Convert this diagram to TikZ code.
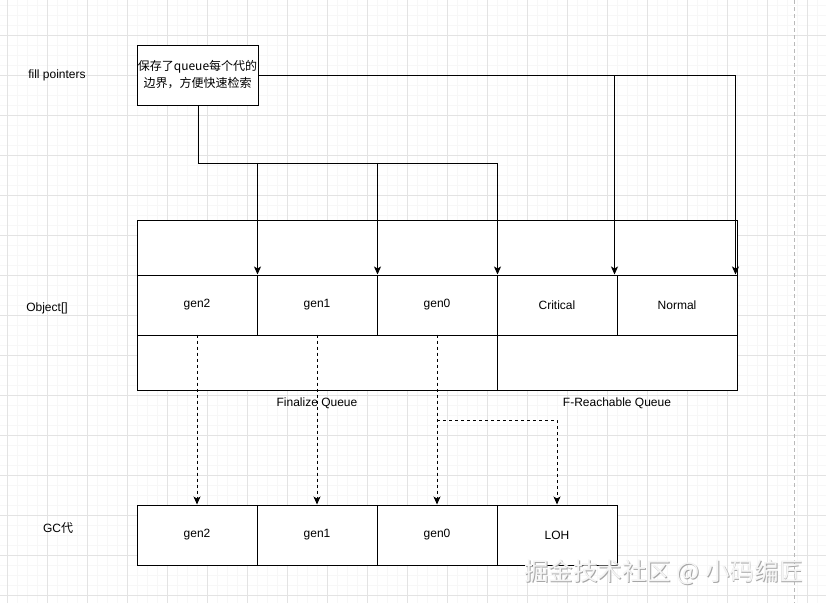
\documentclass[tikz,border=0pt]{standalone}
\usepackage{fontspec}
\setmainfont{Liberation Sans}
\newfontfamily\cjk{Noto Sans CJK SC}
\usetikzlibrary{arrows.meta,positioning}

\begin{document}
\begin{tikzpicture}[x=1pt,y=-1pt,
  every node/.style={font=\fontsize{12}{15}\selectfont},
  cell/.style={draw,fill=white,line width=1pt,inner sep=0pt,minimum width=120pt,minimum height=60pt},
  label/.style={inner sep=0pt},
  ptr/.style={line width=1pt,-{Stealth[length=8pt,width=7pt,inset=2pt]}},
  dptr/.style={line width=1pt,dash pattern=on 3pt off 3pt,-{Stealth[length=8pt,width=7pt,inset=2pt]}},
  gridline/.style={gray!22,line width=0.6pt}]
\useasboundingbox (0,0) rectangle (826,603);
\fill[white] (0,0) rectangle (826,603);
% background grid
\foreach \x in {17,27,...,826} \draw[gray!6,line width=0.4pt] (\x,0) -- (\x,603);
\foreach \y in {5,15,...,603} \draw[gray!6,line width=0.4pt] (0,\y) -- (826,\y);
\foreach \x in {7,47,...,826} \draw[gridline] (\x,0) -- (\x,603);
\foreach \y in {35,75,...,603} \draw[gridline] (0,\y) -- (826,\y);
\draw[gray!55,line width=0.6pt,dash pattern=on 4pt off 3pt] (794,0) -- (794,603);

% row labels
\node[label] (lfp) at (57,75) {fill pointers};
\node[label] (lobj) at (47,308) {Object[]};
\node[label] (lgc) at (58,528) {GC\cjk 代};

% pointer box
\node[cell,minimum width=121pt,minimum height=60pt,align=center,
  font=\cjk\fontsize{12}{17}\selectfont] (fp) at (197.5,75) {保存了queue每个代的\\边界，方便快速检索};

% Object[] array
\node[cell,minimum width=600pt,minimum height=55pt] (otop) at (437,247.5) {};
\foreach \t [count=\i] in {gen2,gen1,gen0,Critical,Normal}
  \node[cell] (o\i) at ({77+120*\i},305) {\t};
\node[cell,minimum width=360pt,minimum height=55pt] (fq) at (317,362.5) {};
\node[cell,minimum width=240pt,minimum height=55pt] (frq) at (617,362.5) {};
\node[label] (lfq) at (317,403) {Finalize Queue};
\node[label] (lfrq) at (617,403) {F-Reachable Queue};

% GC generations
\foreach \t [count=\i] in {gen2,gen1,gen0,LOH}
  \node[cell] (c\i) at ({77+120*\i},535) {\t};

% fill pointer connectors
\coordinate (bus) at (198,163);
\draw[line width=1pt] (fp.south -| bus) -- (bus) -- (bus -| o3.north east);
\foreach \i in {1,2,3}
  \draw[ptr] (bus -| o\i.north east) -- (o\i.north east);
\draw[line width=1pt] (fp.east) -- ([xshift=-2pt]fp.east -| o5.north east);
\draw[ptr] ([xshift=-2pt]fp.east -| o5.north east) -- ([xshift=-2pt]o5.north east);
\draw[ptr] ([xshift=-3pt]fp.east -| o4.north east) -- ([xshift=-3pt]o4.north east);

% generation links
\foreach \i in {1,2,3}
  \draw[dptr] (o\i.south |- fq.north) -- (c\i.north);
\coordinate (split) at (437,420);
\draw[dptr] (split) -| (c4.north);

% watermark
\node[label,font=\cjk\fontsize{24.5}{26}\selectfont,text=gray!70] (wm0) at (664.8,572.8) {掘金技术社区 @ 小码编匠};
\node[label,font=\cjk\fontsize{24.5}{26}\selectfont,text=gray!8] (wm) at (664,572) {掘金技术社区 @ 小码编匠};
\end{tikzpicture}
\end{document}
